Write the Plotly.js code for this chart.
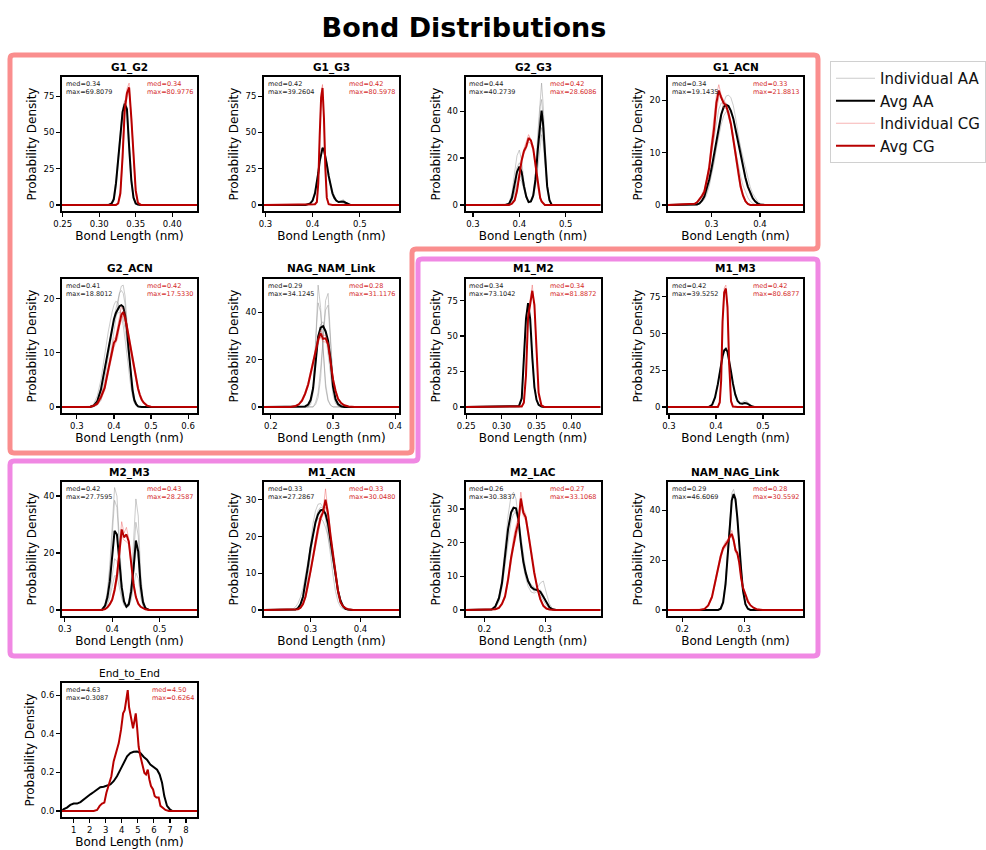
<!DOCTYPE html>
<html><head><meta charset="utf-8">
<script src="https://cdn.plot.ly/plotly-3.0.1.min.js"></script>
<style>html,body{margin:0;padding:0;background:#fff}#chart{width:986px;height:850px}</style>
</head><body><div id="chart"></div>
<script>
// ================= DATA =================
const panelNames = ['G1_G2','G1_G3','G2_G3','G1_ACN','G2_ACN','NAG_NAM_Link','M1_M2','M1_M3','M2_M3','M1_ACN','M2_LAC','NAM_NAG_Link','End_to_End'];
const aaMed = ['0.34','0.42','0.44','0.34','0.41','0.29','0.34','0.42','0.42','0.33','0.26','0.29','4.63'];
const aaMax = ['69.8079','39.2604','40.2739','19.1435','18.8012','34.1245','73.1042','39.5252','27.7595','27.2867','30.3837','46.6069','0.3087'];
const cgMed = ['0.34','0.42','0.42','0.33','0.42','0.28','0.34','0.42','0.43','0.33','0.27','0.28','4.50'];
const cgMax = ['80.9776','80.5978','28.6086','21.8813','17.5330','31.1176','81.8872','80.6877','28.2587','30.0480','33.1068','30.5592','0.6264'];
const legendNames = ['Individual AA','Avg AA','Individual CG','Avg CG'];

// G1_G2
const G1_G2_x = [0.249,0.313,0.317,0.320,0.323,0.326,0.329,0.332,0.335,0.338,0.341,0.344,0.347,0.350,0.353,0.357,0.434];
const G1_G2_aa = [0,0,1,4,15,32,47,64,69.81,66,40,17,5,1,0.2,0,0];
const G1_G2_cg = [0,0,0,0,0,1,8,33,66,77,80.98,60,33,10,1.5,0,0];
const G1_G2_aaInd = [[0,0,1.5,6,18,36,52,67,72,62,35,14,4,0.8,0.1,0,0],[0,0,0.5,2.5,12,28,43,60,67,68,45,20,6,1.3,0.3,0,0]];
const G1_G2_cgInd = [[0,0,0,0,0,1.5,10,37,70,80,84,58,30,8,1,0,0],[0,0,0,0,0.3,1.5,7,30,62,74,78,62,36,12,2,0,0]];

// G1_G3
const G1_G3_x = [0.297,0.385,0.395,0.400,0.405,0.409,0.412,0.415,0.418,0.421,0.424,0.427,0.430,0.434,0.438,0.442,0.446,0.450,0.455,0.460,0.465,0.470,0.475,0.480,0.583];
const G1_G3_aa = [0,0,1,3,8,15,22,30,36,39.26,38,34,28,20,13,8,5,3,2,2,2.3,1.5,0.6,0,0];
const G1_G3_cg = [0,0,0,0,0.5,2,15,48,74,80.6,60,25,5,0.5,0,0,0,0,0,0,0,0,0,0,0];
const G1_G3_aaInd = [[0,0,1.5,4,10,17,24,31,37,40,38,33,26,18,11,6.5,4,2.5,2.2,3,3.6,2.2,0.8,0,0],[0,0,0.7,2.5,7,14,21,29,35,38.5,38,35,30,22,15,9.5,6,3.5,2,1.5,1.5,1,0.4,0,0]];
const G1_G3_cgInd = [[0,0,0,0,0.7,2.5,17,52,77,83,58,22,4,0.3,0,0,0,0,0,0,0,0,0,0,0]];

// G2_G3
const G2_G3_x = [0.284,0.370,0.378,0.384,0.390,0.395,0.400,0.405,0.410,0.415,0.420,0.425,0.430,0.435,0.440,0.445,0.448,0.451,0.455,0.460,0.465,0.470,0.575];
const G2_G3_aa = [0,0,0.5,3,9,14,16.3,14,8,3.5,1.2,1.5,4,11,24,36,40.27,35,22,8,2,0,0];
const G2_G3_cg = [0,0,0,0.5,2,6,13,19,23,25,28.6,27.5,24,17,8,3,1.5,0.7,0,0,0,0,0];
const G2_G3_aaInd = [[0,0,1,5,14,21,23.4,19,10,4,1.3,1.2,3,8,16,26,30,27,17,6,1.5,0,0],[0,0,0.5,3,10,16,18,15,9,4,1.5,2,5,14,31,47,52,44,26,9,2,0,0],[0,0,0.3,2,6,11,13,11,7,3,1,1.5,4,12,27,42,45,38,24,9,2.5,0,0],[0,0,0.2,1.5,5,9,11,10,6,3,1,1.3,3.5,10,22,29,33,31,21,8,2,0,0]];
const G2_G3_cgInd = [[0,0,0,0.7,2.5,7,14,20,24,27,30,28,25,18,9,3.5,1.5,0.5,0,0,0,0,0],[0,0,0,0.3,1.5,5,12,18,22,24,27,26,23,16,7,2.5,1.2,0.6,0,0,0,0,0]];

// G1_ACN
const G1_ACN_x = [0.21,0.265,0.27,0.275,0.28,0.285,0.29,0.295,0.30,0.305,0.31,0.315,0.32,0.325,0.33,0.335,0.34,0.345,0.35,0.355,0.36,0.365,0.37,0.375,0.38,0.385,0.39,0.395,0.40,0.405,0.41,0.489];
const G1_ACN_aa = [0,0,0.1,0.3,0.8,1.6,3,4.8,7,9.5,12.5,15.2,17.3,18.7,19.14,18.9,18,16.5,14.3,12,9.6,7.2,5.2,3.5,2.2,1.3,0.7,0.3,0.1,0,0,0];
const G1_ACN_cg = [0,0.2,0.5,1,1.7,2.5,4.5,7,11,14.5,19.5,21.88,20.5,19.5,19,17.5,15.5,12.5,9.5,6,3.5,1.8,0.7,0.2,0,0,0,0,0,0,0,0];
const G1_ACN_aaInd = [[0,0,0,0.2,0.5,1,2,3.5,5.5,8,11,14,17,19.5,20.8,21,20.5,19,16.5,13.5,10.5,8,5.5,3.5,2,1,0.5,0.2,0,0,0,0],[0,0.1,0.3,0.8,1.5,2.8,4.5,7,10,13,16,18.3,19.5,19.5,18.6,17,15,12.5,10,7.6,5.5,3.7,2.4,1.4,0.7,0.3,0.1,0,0,0,0,0],[0,0,0.1,0.3,0.7,1.4,2.5,4,6,8.3,10.8,13.3,15.4,17,17.8,18,17.6,16.6,15,13,11,9,7,5,3.4,2.2,1.3,0.7,0.3,0.1,0,0]];
const G1_ACN_cgInd = [[0,0.3,0.6,1.2,2,3,5,8,12,16,21,23,21,20,19.5,17,15,12,8.5,5.5,3,1.5,0.5,0.1,0,0,0,0,0,0,0,0],[0,0.1,0.4,0.8,1.4,2,4,6,10,13,18,20.5,21,18.5,18.5,18,16,13,10.5,6.5,4,2,0.9,0.3,0,0,0,0,0,0,0,0]];

// G2_ACN
const G2_ACN_x = [0.26,0.335,0.345,0.355,0.365,0.375,0.385,0.395,0.400,0.405,0.410,0.415,0.420,0.425,0.430,0.435,0.440,0.445,0.450,0.455,0.460,0.465,0.470,0.475,0.480,0.485,0.490,0.500,0.624];
const G2_ACN_aa = [0,0,0.2,1,3.2,7,11.2,14.9,16.2,17.3,18.1,18.6,18.8,18.5,17,14.3,10.3,6.3,3.2,1.3,0.5,0.1,0,0,0,0,0,0,0];
const G2_ACN_cg = [0,0,0.2,0.6,1.8,3.5,6.9,10.3,11.8,12.3,13.8,15.8,17,17.53,16.5,14.8,12.9,10.8,8.9,6.7,5,3.4,2.2,1.3,0.8,0.4,0.2,0.05,0];
const G2_ACN_aaInd = [[0,0,0,0.3,1.2,3.5,7,11.5,14,16.5,19,21,22.3,22.5,20.5,16,10.5,5.5,2.3,0.8,0.2,0,0,0,0,0,0,0,0],[0,0,0.1,0.6,2,5,9,13.5,15.8,18,19.8,21,21.5,21,19,15,10,5.5,2.5,0.9,0.3,0,0,0,0,0,0,0,0],[0,0.1,0.5,2,5,9.5,14,17.5,18.8,19.5,19.3,18.5,17,15,12.5,9.5,6.5,4,2,0.8,0.3,0.1,0,0,0,0,0,0,0],[0,0,0.3,1.3,3.8,7.5,11.5,14.5,15.8,16.8,17.3,17.5,17.2,16.3,14.5,12,9,6,3.5,1.7,0.7,0.2,0,0,0,0,0,0,0]];
const G2_ACN_cgInd = [[0,0,0.3,0.9,2.2,4,7.5,11,12.5,13,15,17,18.5,18,17.5,15.5,13.5,11.5,9.5,7.2,5.5,3.8,2.5,1.5,0.9,0.5,0.2,0.05,0],[0,0,0.1,0.4,1.4,3,6.3,9.6,11,11.8,12.6,14.8,16,17,15.6,14,12.2,10,8.2,6.2,4.5,3,1.9,1.1,0.7,0.3,0.15,0.05,0]];

// NAG_NAM_Link
const NAG_NAM_x = [0.189,0.232,0.240,0.245,0.250,0.255,0.260,0.264,0.268,0.272,0.276,0.280,0.284,0.288,0.292,0.296,0.300,0.304,0.308,0.313,0.318,0.325,0.335,0.406];
const NAG_NAM_aa = [0,0,0,0,0,0.2,1,3,8,19,29.7,33.5,34.12,32,28,20,8.5,3.3,1.2,0.3,0,0,0,0];
const NAG_NAM_cg = [0,0,0.4,1.1,2.6,5.5,9.5,14,19,24,28.3,31.12,28.8,29,26.5,19,11.5,6.8,3.4,1.6,0.7,0.15,0,0];
const NAG_NAM_aaInd = [[0,0,0,0,0,0,0,1,6,27,51.5,42,22,8,2.5,0.6,0,0,0,0,0,0,0,0],[0,0,0,0,0,0,0,0,0,1,4,12,28,45,48,30,10,2.5,0.5,0,0,0,0,0],[0,0,0,0,0,0,0,2,9,28,44,40,24,10,3,0.8,0,0,0,0,0,0,0,0],[0,0,0,0,0,0,0,0,0,2,6,16,30,41,43,28,11,3,0.6,0,0,0,0,0],[0,0,0,0,0,0,0.5,2.5,8,18,29,35,36,31,22,12,5,1.5,0.3,0,0,0,0,0]];
const NAG_NAM_cgInd = [[0,0.1,0.6,1.5,3.2,6.2,10.5,15,20,25,29.5,32.5,30,30.5,27,19.5,11,6,3,1.4,0.6,0.1,0,0],[0,0,0.3,0.8,2,4.8,8.5,13,18,23,27,29.5,27.5,27.5,26,18.5,12,7.5,3.8,1.8,0.8,0.2,0,0]];

// M1_M2
const M1_M2_x = [0.249,0.320,0.325,0.329,0.332,0.335,0.338,0.341,0.344,0.347,0.350,0.353,0.357,0.361,0.441];
const M1_M2_aa = [0,0,0.5,6,33,62,73.1,62,35,14,5,1.5,0.3,0,0];
const M1_M2_cg = [0,0,0,0.3,3,22,63,74,81.89,72,42,10,1,0,0];
const M1_M2_aaInd = [[0,0,0.8,8,36,64,71,58,32,13,4.5,1.2,0.2,0,0]];
const M1_M2_cgInd = [[0,0,0,0.5,4,25,66,78,86,70,38,8,0.7,0,0]];

// M1_M3
const M1_M3_x = [0.298,0.385,0.392,0.398,0.404,0.408,0.411,0.414,0.4175,0.421,0.4245,0.428,0.432,0.436,0.441,0.446,0.451,0.456,0.461,0.466,0.471,0.476,0.482,0.585];
const M1_M3_aa = [0,0,1.5,6.5,15.5,23.5,29,34.5,38.5,39.53,37.5,32,24,16,8.5,4,2.4,2.2,2.6,2.4,1.4,0.4,0,0];
const M1_M3_cg = [0,0,0,0,0,3,18,58,78,80.69,68,30,4,0.3,0,0,0,0,0,0,0,0,0,0];
const M1_M3_aaInd = [[0,0,2,7.5,17,25,30.5,35.5,39,40.5,37.5,31,22.5,14.5,7.5,3.8,2.8,3.2,4.2,3.8,2,0.5,0,0]];
const M1_M3_cgInd = [[0,0,0,0,0,4,21,62,81,83,66,27,3,0.2,0,0,0,0,0,0,0,0,0,0]];

// M2_M3
const M2_M3_x = [0.294,0.378,0.385,0.390,0.395,0.400,0.405,0.410,0.415,0.420,0.425,0.430,0.435,0.440,0.445,0.450,0.455,0.460,0.465,0.470,0.478,0.579];
const M2_M3_aa = [0,0,1.5,4.5,10,19,27.76,26.5,17,8,3,1.1,2,6.5,14.5,24.4,20.5,8.5,2.7,0.6,0,0];
const M2_M3_cg = [0,0,0.3,0.9,2,3.6,7,12,20,28.26,25.5,26.5,24,16.5,9,4.5,2.2,1.1,0.5,0.2,0,0];
const M2_M3_aaInd = [[0,0,2,7,16,30,43,40,24,10,3,1,1.2,3.5,8,13,11,4.5,1.3,0.3,0,0],[0,0,1.8,6,14,27,38.5,36,22,9,3,0.8,1.5,5,12,22,18,7,2,0.4,0,0],[0,0,1,3,6,12,18,17,11,5,2,1,2.5,8,19,30.8,26,11,3.5,0.8,0,0],[0,0,0.8,2,4.5,8,12,12,8,4,1.5,1.2,3,9.5,24,39,33,13,4,1,0,0]];
const M2_M3_cgInd = [[0,0,0.4,1.1,2.4,4.2,8,13.5,22,31,27,29,25,17,9.5,5,2.5,1.2,0.6,0.2,0,0],[0,0,0.2,0.7,1.6,3,6,10.5,18,26,24.5,24,23,15.5,8.5,4,2,1,0.4,0.1,0,0]];

// M1_ACN
const M1_ACN_x = [0.207,0.265,0.270,0.275,0.280,0.285,0.290,0.295,0.300,0.305,0.310,0.315,0.320,0.325,0.330,0.335,0.340,0.345,0.350,0.355,0.360,0.365,0.370,0.375,0.385,0.477];
const M1_ACN_aa = [0,0,0.1,0.5,1.5,3.6,7.5,12,16.8,20.5,23.9,26,27.1,27.29,26.2,23.5,19,14,9.4,5.2,2.5,1,0.3,0.1,0,0];
const M1_ACN_cg = [0,0,0,0.2,0.6,1.6,3.6,6.8,10.5,14.3,18.5,22,25,26.6,30.05,26.3,20.3,15,9.5,5.2,2.1,1,0.5,0.2,0,0];
const M1_ACN_aaInd = [[0,0,0,0.3,1,3,7,12.5,18.5,23.5,27,28.8,29,28,25,20.5,15,9.5,5,2.2,0.8,0.3,0.1,0,0,0],[0,0.3,0.8,1.8,3.5,6,9.5,13.5,17.5,21,23.5,24.8,25,24.2,22.5,20,16.5,12.5,8.8,5.5,3,1.5,0.6,0.2,0,0],[0,0,0,0.1,0.5,1.8,4.5,9,14.5,20,24.5,27,28,27.8,26.5,23,18,12.3,7.5,3.8,1.6,0.6,0.2,0,0,0]];
const M1_ACN_cgInd = [[0,0,0,0.3,0.8,2,4,7.5,11,15,19.5,23,26,27,33,27,21,15.5,10,5.5,2.3,1.1,0.5,0.2,0,0],[0,0,0,0.1,0.4,1.3,3.2,6,10,13.5,17.5,21,24,26,28,25.5,19.5,14.5,9,5,2,0.9,0.5,0.2,0,0]];

// M2_LAC
const M2_LAC_x = [0.169,0.205,0.212,0.218,0.224,0.229,0.234,0.239,0.244,0.248,0.252,0.256,0.260,0.264,0.268,0.272,0.277,0.282,0.287,0.292,0.297,0.302,0.307,0.312,0.318,0.391];
const M2_LAC_aa = [0,0,0.1,1,3.5,8,15.5,24,29,30.38,30.2,27,20,14.5,11,8.5,6.8,6.1,5.9,5.4,3.9,2.1,0.8,0.2,0,0];
const M2_LAC_cg = [0,0,0,0.2,0.6,1.8,4,9,15.5,20,23.2,26,33.11,29,27.5,23,17,11,6.6,3.2,1.2,0.4,0.1,0,0,0];
const M2_LAC_aaInd = [[0,0,0.1,1.2,4,9.5,18,28,34,35,33,27,19,13,9.5,7,5.3,5,5.5,6,4.5,2.3,0.8,0.2,0,0],[0,0,0,0.6,2.5,6.5,13,21,26.5,28.5,29,27,21.5,16,12,9,6.5,5.5,6.5,8,8.6,5,1.8,0.4,0,0],[0,0,0.2,1.3,4,8.5,16,24.5,28.5,29.5,28.5,26,19.5,14,11,9,7.5,6.8,5.8,4.2,2.8,1.3,0.5,0.1,0,0]];
const M2_LAC_cgInd = [[0,0,0,0.3,0.8,2.2,4.5,10,17,21.5,25,27.5,35,30,28.5,24,17.5,11.5,7,3.5,1.4,0.5,0.1,0,0,0],[0,0,0,0.1,0.4,1.4,3.5,8,14,18.5,21.5,24.5,31,28,26.5,22,16.5,10.5,6.2,2.9,1,0.3,0.1,0,0,0]];

// NAM_NAG_Link
const NAM_NAG_x = [0.177,0.228,0.236,0.242,0.248,0.253,0.258,0.262,0.266,0.270,0.274,0.277,0.280,0.283,0.286,0.289,0.292,0.295,0.298,0.302,0.306,0.310,0.315,0.320,0.330,0.395];
const NAM_NAG_aa = [0,0,0,0,0,0,0,0.5,3,10.5,24,36.5,44,46.61,44.5,37,25,16.5,8,2.3,0.5,0,0,0,0,0];
const NAM_NAG_cg = [0,0,0.4,1.8,5.2,11,17,21.5,24.8,26.3,27.8,29.6,30.56,28,24,22.8,19,13,9,6.3,3.4,1.9,0.9,0.3,0,0];
const NAM_NAG_aaInd = [[0,0,0,0,0,0,0,0.7,3.5,12,26,39,47,48.5,45,36,23.5,15,7,2,0.4,0,0,0,0,0],[0,0,0,0,0,0,0.1,0.8,4,12,25,37,44.5,46,43,36,26,17.5,8.5,2.6,0.6,0,0,0,0,0]];
const NAM_NAG_cgInd = [[0,0,0.5,2.1,5.8,12,18,22.5,25.5,27.5,28.5,30,32,29,25,23.5,19,13.5,9,6,3,1.7,0.8,0.2,0,0],[0,0,0.3,1.5,4.6,10,16,20.5,24,25,27,29,29.5,27,23,22,19,12.5,9,6.6,3.8,2.1,1,0.4,0,0]];

// End_to_End
const E2E_aaX = [0.27,0.38,0.58,0.79,1.0,1.21,1.42,1.62,1.83,2.04,2.25,2.46,2.66,2.87,3.08,3.29,3.49,3.70,3.91,4.12,4.33,4.53,4.74,4.95,5.16,5.37,5.57,5.78,5.99,6.20,6.36,6.51,6.65,6.82,6.99,7.13,8.69];
const E2E_aa = [0,0.009,0.017,0.031,0.038,0.038,0.046,0.06,0.074,0.086,0.098,0.111,0.123,0.125,0.129,0.137,0.154,0.18,0.214,0.249,0.283,0.3,0.307,0.3087,0.3,0.28,0.266,0.24,0.228,0.214,0.189,0.146,0.077,0.026,0.009,0,0];
const E2E_cgX = [0.27,2.25,2.46,2.62,2.77,2.91,3.04,3.18,3.35,3.49,3.64,3.81,3.95,4.08,4.18,4.28,4.37,4.45,4.58,4.70,4.80,4.87,4.95,5.05,5.16,5.28,5.41,5.51,5.62,5.72,5.82,5.95,6.05,6.16,6.30,6.41,6.55,6.72,6.93,8.69];
const E2E_cg = [0,0,0.005,0.026,0.038,0.043,0.094,0.129,0.18,0.257,0.3,0.352,0.42,0.506,0.523,0.592,0.6264,0.54,0.472,0.429,0.472,0.506,0.437,0.334,0.283,0.232,0.197,0.189,0.214,0.163,0.129,0.111,0.077,0.069,0.069,0.026,0.014,0.005,0,0];

// axis settings per panel
const xRanges = [[0.249,0.434],[0.297,0.583],[0.284,0.575],[0.21,0.489],[0.26,0.624],[0.189,0.406],[0.249,0.441],[0.298,0.585],[0.294,0.579],[0.207,0.477],[0.169,0.391],[0.177,0.395],[0.27,8.69]];
const yTop = [84,84,52,23.3,22.5,51.5,85.9,83,42.8,33.2,36.2,49,0.632];
const xDtick = [0.05,0.1,0.1,0.1,0.1,0.1,0.05,0.1,0.1,0.1,0.1,0.1,1];
const xFmt = ['.2f','.1f','.1f','.1f','.1f','.1f','.2f','.1f','.1f','.1f','.1f','.1f','d'];
const yDtick = [25,25,20,10,10,20,25,25,20,10,10,20,0.2];
const yFmt = ['d','d','d','d','d','d','d','d','d','d','d','d','.1f'];

// ================= BUILD =================
const panels = [
  {x:G1_G2_x, aa:G1_G2_aa, cg:G1_G2_cg, aaInd:G1_G2_aaInd, cgInd:G1_G2_cgInd},
  {x:G1_G3_x, aa:G1_G3_aa, cg:G1_G3_cg, aaInd:G1_G3_aaInd, cgInd:G1_G3_cgInd},
  {x:G2_G3_x, aa:G2_G3_aa, cg:G2_G3_cg, aaInd:G2_G3_aaInd, cgInd:G2_G3_cgInd},
  {x:G1_ACN_x, aa:G1_ACN_aa, cg:G1_ACN_cg, aaInd:G1_ACN_aaInd, cgInd:G1_ACN_cgInd},
  {x:G2_ACN_x, aa:G2_ACN_aa, cg:G2_ACN_cg, aaInd:G2_ACN_aaInd, cgInd:G2_ACN_cgInd},
  {x:NAG_NAM_x, aa:NAG_NAM_aa, cg:NAG_NAM_cg, aaInd:NAG_NAM_aaInd, cgInd:NAG_NAM_cgInd},
  {x:M1_M2_x, aa:M1_M2_aa, cg:M1_M2_cg, aaInd:M1_M2_aaInd, cgInd:M1_M2_cgInd},
  {x:M1_M3_x, aa:M1_M3_aa, cg:M1_M3_cg, aaInd:M1_M3_aaInd, cgInd:M1_M3_cgInd},
  {x:M2_M3_x, aa:M2_M3_aa, cg:M2_M3_cg, aaInd:M2_M3_aaInd, cgInd:M2_M3_cgInd},
  {x:M1_ACN_x, aa:M1_ACN_aa, cg:M1_ACN_cg, aaInd:M1_ACN_aaInd, cgInd:M1_ACN_cgInd},
  {x:M2_LAC_x, aa:M2_LAC_aa, cg:M2_LAC_cg, aaInd:M2_LAC_aaInd, cgInd:M2_LAC_cgInd},
  {x:NAM_NAG_x, aa:NAM_NAG_aa, cg:NAM_NAG_cg, aaInd:NAM_NAG_aaInd, cgInd:NAM_NAG_cgInd},
  {aaX:E2E_aaX, cgX:E2E_cgX, aa:E2E_aa, cg:E2E_cg, aaInd:[], cgInd:[]}
];

const W = 986, H = 850;
const colLeft = [62, 264, 465.5, 668];
const rowTop = [77, 279, 482, 683];
const PW = 135, PH = 134;
const grid = [[0,0],[0,1],[0,2],[0,3],[1,0],[1,1],[1,2],[1,3],[2,0],[2,1],[2,2],[2,3],[3,0]];

const C_IAA = 'rgba(140,140,140,0.45)';
const C_AA = '#000000';
const C_ICG = 'rgba(235,60,60,0.38)';
const C_CG = '#b80000';

const traces = [];
const layout = {
  width: W, height: H,
  margin: {l:0, r:0, t:0, b:0},
  paper_bgcolor: '#fff', plot_bgcolor: '#fff',
  font: {family: 'DejaVu Sans, sans-serif', color: '#000'},
  title: {text: 'Bond Distributions', x: 464/W, xanchor: 'center', y: 1 - 28/H, yanchor: 'middle',
          font: {size: 27, weight: 'bold', color: '#000'}},
  showlegend: true,
  legend: {x: 830/W, xanchor: 'left', y: 1 - 61/H, yanchor: 'top', bgcolor: '#fff',
           bordercolor: '#d0d0d0', borderwidth: 1, font: {size: 15, color: '#111'},
           itemwidth: 39, traceorder: 'normal'},
  annotations: [], shapes: [], hovermode: false
};

const legendShown = {};
function legendFlag(name){ if(legendShown[name]) return false; legendShown[name] = true; return true; }

panels.forEach((p, i) => {
  const [r, c] = grid[i];
  const l = colLeft[c], t = rowTop[r];
  const xid = i === 0 ? 'x' : 'x' + (i + 1);
  const yid = i === 0 ? 'y' : 'y' + (i + 1);
  const ax = {
    domain: [l / W, (l + PW) / W], anchor: yid, range: xRanges[i],
    showline: true, mirror: true, linecolor: '#000', linewidth: 2,
    ticks: 'outside', ticklen: 4, tickwidth: 1.2, tickcolor: '#000',
    tickmode: 'linear', tick0: 0, dtick: xDtick[i], tickformat: xFmt[i],
    showgrid: false, zeroline: false, tickfont: {size: 8.5, color: '#000'},
    title: {text: 'Bond Length (nm)', font: {size: 12, color: '#000'}, standoff: 2}
  };
  const D = yTop[i];
  const ay = {
    domain: [1 - (t + PH) / H, 1 - t / H], anchor: xid, range: [-0.05 * D, 1.05 * D],
    showline: true, mirror: true, linecolor: '#000', linewidth: 2,
    ticks: 'outside', ticklen: 4, tickwidth: 1.2, tickcolor: '#000',
    tickmode: 'linear', tick0: 0, dtick: yDtick[i], tickformat: yFmt[i],
    showgrid: false, zeroline: false, tickfont: {size: 8.5, color: '#000'},
    title: {text: 'Probability Density', font: {size: 12, color: '#000'}, standoff: 4}
  };
  layout[i === 0 ? 'xaxis' : 'xaxis' + (i + 1)] = ax;
  layout[i === 0 ? 'yaxis' : 'yaxis' + (i + 1)] = ay;

  const xa = p.aaX || p.x, xc = p.cgX || p.x;
  p.aaInd.forEach(arr => traces.push({type:'scatter', mode:'lines', x: xa, y: arr, xaxis: xid, yaxis: yid,
    line: {color: C_IAA, width: 1}, name: legendNames[0], showlegend: legendFlag('iaa')}));
  traces.push({type:'scatter', mode:'lines', x: xa, y: p.aa, xaxis: xid, yaxis: yid,
    line: {color: C_AA, width: 2}, name: legendNames[1], showlegend: legendFlag('aa')});
  p.cgInd.forEach(arr => traces.push({type:'scatter', mode:'lines', x: xc, y: arr, xaxis: xid, yaxis: yid,
    line: {color: C_ICG, width: 1}, name: legendNames[2], showlegend: legendFlag('icg')}));
  traces.push({type:'scatter', mode:'lines', x: xc, y: p.cg, xaxis: xid, yaxis: yid,
    line: {color: C_CG, width: 2}, name: legendNames[3], showlegend: legendFlag('cg')});

  // subplot title
  const isBold = panelNames[i] !== 'End_to_End';
  layout.annotations.push({xref:'paper', yref:'paper', x: (l + PW/2) / W, y: 1 - (t - 10) / H,
    xanchor:'center', yanchor:'middle', showarrow:false,
    text: isBold ? '<b>' + panelNames[i] + '</b>' : panelNames[i], font:{size: 10.5, color:'#000'}});
  // stats
  layout.annotations.push({xref:'paper', yref:'paper', x: (l + 1.5) / W, y: 1 - (t + 0.5) / H,
    xanchor:'left', yanchor:'top', align:'left', showarrow:false,
    text: 'med=' + aaMed[i] + '<br>max=' + aaMax[i], font:{size: 6.5, color:'#222'}});
  layout.annotations.push({xref:'paper', yref:'paper', x: (l + PW - 1.5) / W, y: 1 - (t + 0.5) / H,
    xanchor:'right', yanchor:'top', align:'left', showarrow:false,
    text: 'med=' + cgMed[i] + '<br>max=' + cgMax[i], font:{size: 6.5, color:'#d42a2a'}});
});

// group frames
function roundedPath(pts, rad){
  const n = pts.length;
  const P = (x, y) => (x / W).toFixed(5) + ',' + (1 - y / H).toFixed(5);
  const pt = (a, b, d) => { const dx=b[0]-a[0], dy=b[1]-a[1], L=Math.hypot(dx,dy); return [a[0]+dx*d/L, a[1]+dy*d/L]; };
  const s = pt(pts[0], pts[1], rad);
  let path = 'M' + P(s[0], s[1]);
  for (let k = 1; k <= n; k++) {
    const v = pts[k % n], prev = pts[k - 1], next = pts[(k + 1) % n];
    const a = pt(v, prev, rad), b = pt(v, next, rad);
    path += ' L' + P(a[0], a[1]) + ' Q' + P(v[0], v[1]) + ' ' + P(b[0], b[1]);
  }
  return path + ' Z';
}
const frameG = [[10,55],[818,55],[818,249],[412,249],[412,453],[10,453]];
const frameM = [[418,259],[818,259],[818,656],[10,656],[10,461],[418,461]];
layout.shapes.push({type:'path', xref:'paper', yref:'paper', path: roundedPath(frameG, 4),
  line:{color:'#fa8e8e', width:5}, fillcolor:'rgba(0,0,0,0)'});
layout.shapes.push({type:'path', xref:'paper', yref:'paper', path: roundedPath(frameM, 4),
  line:{color:'#f088e3', width:5}, fillcolor:'rgba(0,0,0,0)'});

Plotly.newPlot('chart', traces, layout, {staticPlot: true, displayModeBar: false});
</script>
</body></html>
